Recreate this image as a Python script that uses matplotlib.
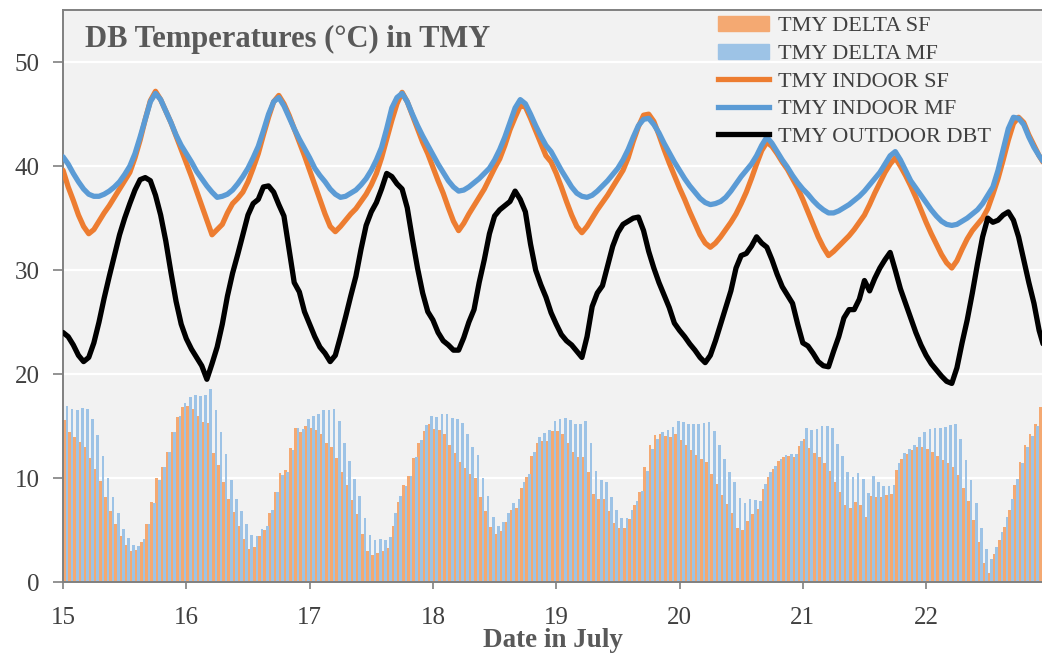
import numpy as np
import matplotlib.pyplot as plt
from matplotlib.patches import Patch
from matplotlib.lines import Line2D

plt.rcParams['font.family'] = ['Liberation Serif', 'DejaVu Serif']

# hourly values, July 15 00:00 .. July 22 23:00 (one row per day)
outdoor_dbt = [
    24.0, 23.6, 22.8, 21.8, 21.2, 21.6, 23.0, 25.0, 27.3, 29.4, 31.4, 33.4, 35.0, 36.4, 37.7, 38.7, 38.9, 38.6, 37.2, 35.3, 32.8, 29.8, 27.0, 24.8,
    23.4, 22.4, 21.6, 20.8, 19.5, 21.0, 22.6, 24.8, 27.5, 29.7, 31.5, 33.4, 35.3, 36.4, 36.8, 38.0, 38.1, 37.5, 36.3, 35.2, 32.0, 28.8, 27.9, 26.0,
    24.8, 23.6, 22.6, 22.0, 21.2, 21.8, 23.6, 25.5, 27.5, 29.4, 32.0, 34.3, 35.6, 36.5, 37.8, 39.3, 39.0, 38.3, 37.8, 36.0, 33.0, 30.2, 27.8, 26.0,
    25.2, 24.0, 23.2, 22.8, 22.3, 22.3, 23.5, 25.0, 26.2, 28.8, 31.0, 33.5, 35.2, 35.8, 36.2, 36.6, 37.6, 36.8, 35.6, 32.5, 30.0, 28.6, 27.4, 25.9,
    24.8, 23.8, 23.2, 22.8, 22.2, 21.6, 23.6, 26.5, 27.8, 28.5, 30.4, 32.3, 33.6, 34.4, 34.7, 35.0, 35.1, 33.8, 31.8, 30.2, 28.8, 27.6, 26.4, 24.9,
    24.2, 23.6, 22.9, 22.3, 21.6, 21.1, 21.8, 23.2, 24.8, 26.4, 28.0, 30.2, 31.4, 31.6, 32.3, 33.2, 32.6, 32.2, 31.0, 29.6, 28.4, 27.6, 26.8, 24.8,
    23.0, 22.7, 22.0, 21.2, 20.8, 20.7, 22.2, 23.6, 25.4, 26.2, 26.2, 27.2, 29.0, 28.0, 29.2, 30.2, 31.0, 31.7, 30.0, 28.2, 26.8, 25.4, 24.0, 22.8,
    21.8, 21.0, 20.4, 19.8, 19.3, 19.1, 20.6, 23.0, 25.2, 27.8, 30.6, 33.2, 35.0, 34.6, 34.8, 35.3, 35.6, 34.8, 33.2, 31.0, 28.8, 26.8, 24.2, 22.5,
]

indoor_sf = [
    39.6, 38.0, 36.7, 35.3, 34.2, 33.5, 33.9, 34.7, 35.5, 36.2, 37.0, 37.8, 38.6, 39.4, 40.8, 42.5, 44.5, 46.3, 47.2, 46.4, 45.3, 44.2, 42.9, 41.6,
    40.3, 39.0, 37.6, 36.2, 34.8, 33.4, 33.9, 34.4, 35.5, 36.4, 36.9, 37.5, 38.5, 39.8, 41.2, 43.0, 44.7, 46.2, 46.8, 46.0, 44.9, 43.6, 42.3, 41.0,
    39.6, 38.2, 36.8, 35.4, 34.2, 33.7, 34.2, 34.8, 35.4, 35.9, 36.6, 37.3, 38.2, 39.3, 40.8, 42.6, 44.4, 46.0, 47.1, 46.2, 44.9, 43.6, 42.3, 41.2,
    39.9, 38.6, 37.4, 36.0, 34.7, 33.8, 34.5, 35.4, 36.2, 37.0, 37.8, 38.8, 39.8, 40.7, 42.0, 43.5, 44.7, 45.8, 45.7, 44.6, 43.4, 42.2, 41.0, 40.4,
    39.3, 38.0, 36.6, 35.3, 34.2, 33.6, 34.2, 35.0, 35.8, 36.5, 37.2, 38.0, 38.8, 39.6, 40.8, 42.4, 43.8, 44.9, 45.0, 44.3, 43.0, 41.6, 40.3, 39.1,
    37.9, 36.8, 35.6, 34.5, 33.4, 32.6, 32.2, 32.6, 33.2, 33.9, 34.6, 35.4, 36.4, 37.5, 38.8, 40.2, 41.5, 42.3, 41.9, 41.2, 40.4, 39.7, 38.8, 37.9,
    36.8, 35.6, 34.4, 33.2, 32.2, 31.4, 31.8, 32.3, 32.8, 33.3, 33.9, 34.6, 35.3, 36.3, 37.4, 38.4, 39.4, 40.2, 40.8, 40.0, 39.1, 38.1, 37.0, 35.8,
    34.6, 33.5, 32.5, 31.5, 30.7, 30.2, 30.9, 32.0, 33.0, 33.8, 34.4, 35.0, 35.9, 37.3, 38.8, 40.6, 42.5, 44.1, 44.7, 44.2, 43.0, 42.0, 41.0, 40.2,
]

indoor_mf = [
    40.9, 40.2, 39.3, 38.5, 37.8, 37.3, 37.1, 37.1, 37.3, 37.6, 38.0, 38.5, 39.2, 40.0, 41.2, 42.8, 44.5, 46.2, 47.0, 46.4, 45.3, 44.2, 43.0, 42.0,
    41.2, 40.4, 39.5, 38.8, 38.1, 37.5, 37.0, 37.1, 37.3, 37.7, 38.3, 39.0, 39.8, 40.8, 41.9, 43.4, 45.0, 46.2, 46.6, 45.8, 44.7, 43.6, 42.6, 41.7,
    40.8, 39.8, 39.1, 38.5, 37.8, 37.3, 37.0, 37.1, 37.4, 37.7, 38.2, 38.8, 39.6, 40.6, 41.8, 43.6, 45.6, 46.6, 47.0, 46.2, 45.0, 43.9, 42.9, 42.0,
    41.1, 40.2, 39.4, 38.6, 38.0, 37.6, 37.7, 38.0, 38.4, 38.8, 39.3, 39.8, 40.6, 41.6, 42.8, 44.2, 45.6, 46.4, 46.0, 45.0, 43.9, 42.9, 42.0, 41.4,
    40.5, 39.6, 38.8, 38.0, 37.4, 37.1, 37.0, 37.2, 37.6, 38.1, 38.6, 39.2, 39.8, 40.6, 41.6, 42.8, 43.9, 44.5, 44.6, 44.0, 43.2, 42.2, 41.3, 40.4,
    39.6, 38.8, 38.1, 37.5, 36.9, 36.5, 36.3, 36.4, 36.6, 37.0, 37.6, 38.3, 39.0, 39.6, 40.2, 41.0, 42.0, 42.8, 42.2, 41.4, 40.6, 39.9, 39.1, 38.4,
    37.8, 37.3, 36.7, 36.2, 35.8, 35.5, 35.5, 35.7, 36.0, 36.3, 36.7, 37.1, 37.6, 38.2, 38.8, 39.4, 40.2, 41.0, 41.4, 40.6, 39.6, 38.6, 37.9, 37.2,
    36.5, 35.8, 35.2, 34.7, 34.4, 34.3, 34.4, 34.7, 35.0, 35.4, 35.8, 36.4, 37.2, 38.0, 39.6, 41.6, 43.6, 44.7, 44.6, 44.0, 42.8, 41.8, 41.0, 40.3,
]

day_ticks = [15, 16, 17, 18, 19, 20, 21, 22]
y_ticks = [0, 10, 20, 30, 40, 50]

outdoor = np.array(outdoor_dbt)
delta_sf = np.array(indoor_sf) - outdoor
delta_mf = np.array(indoor_mf) - outdoor
x = 15 + np.arange(len(outdoor)) / 24

c_bar_sf, c_bar_mf = '#F4A972', '#9DC3E6'
c_sf, c_mf = '#ED7D31', '#5B9BD5'
gray = '#808080'
txt = '#404040'

fig = plt.figure(figsize=(10.42, 6.58), dpi=100)
ax = fig.add_axes([0.0605, 0.1155, 0.9395, 0.869])
ax.set_facecolor('#F2F2F2')

hw = 0.5 / 24
ax.bar(x + hw / 2, delta_sf, width=hw * 1.05, color=c_bar_sf, lw=0, zorder=2)
ax.bar(x + hw * 1.5, delta_mf, width=hw * 1.05, color=c_bar_mf, lw=0, zorder=2)
ax.plot(x, indoor_sf, color=c_sf, lw=3.8, zorder=4, solid_capstyle='round')
ax.plot(x, indoor_mf, color=c_mf, lw=3.8, zorder=5, solid_capstyle='round')
ax.plot(x, outdoor, color='black', lw=3.8, zorder=6, solid_capstyle='round')

ax.set_xlim(15, 22.94)
ax.set_ylim(0, 55)
ax.set_xticks(day_ticks)
ax.set_xticklabels([str(d) for d in day_ticks])
ax.set_yticks(y_ticks)
ax.yaxis.grid(True, color='white', lw=1.6)
ax.set_axisbelow(True)

for s in ['top', 'left', 'bottom']:
    ax.spines[s].set_color(gray)
    ax.spines[s].set_linewidth(1.4)
ax.spines['right'].set_visible(False)
ax.tick_params(axis='y', length=7, width=1.2, color=gray, labelcolor=txt, labelsize=18, pad=10)
ax.tick_params(axis='x', length=5, width=1.2, color=gray, labelcolor=txt, labelsize=18, pad=13)

ax.text(0.0225, 0.948, 'DB Temperatures (°C) in TMY', transform=ax.transAxes,
        fontsize=22, fontweight='bold', color='#595959', va='center', ha='left')
ax.set_xlabel('Date in July', fontsize=19.5, fontweight='bold', color='#595959', labelpad=-1)

handles = [
    Patch(color=c_bar_sf, label='TMY DELTA SF'),
    Patch(color=c_bar_mf, label='TMY DELTA MF'),
    Line2D([], [], color=c_sf, lw=3.8, label='TMY INDOOR SF'),
    Line2D([], [], color=c_mf, lw=3.8, label='TMY INDOOR MF'),
    Line2D([], [], color='black', lw=3.8, label='TMY OUTDOOR DBT'),
]
leg = ax.legend(handles=handles, loc='upper left', bbox_to_anchor=(0.669, 0.99),
                frameon=False, fontsize=16, handlelength=2.3, handletextpad=0.4,
                labelspacing=0.32, borderpad=0, borderaxespad=0)
for t in leg.get_texts():
    t.set_color(txt)

fig.savefig('out.png', dpi=100)
